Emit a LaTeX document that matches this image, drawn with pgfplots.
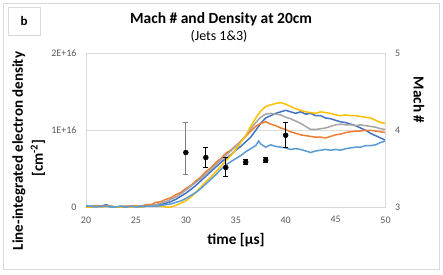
\documentclass[border=0pt]{standalone}
\usepackage{pgfplots}
\pgfplotsset{compat=1.18}
\usepackage{fontspec}
\setmainfont{Carlito}
\definecolor{cBlue}{HTML}{4472C4}
\definecolor{cOrange}{HTML}{ED7D31}
\definecolor{cGray}{HTML}{A5A5A5}
\definecolor{cGold}{HTML}{FFC000}
\definecolor{cLBlue}{HTML}{5B9BD5}
\definecolor{txt}{HTML}{595959}
\definecolor{gridc}{HTML}{D9D9D9}
\begin{document}
\begin{tikzpicture}[x=1pt,y=1pt]
\fill[white] (0,0) rectangle (443,274);
\useasboundingbox (0,0) rectangle (443,274);
\draw[gridc, line width=0.8pt] (3,5) rectangle (439,271);
\draw[gridc, line width=0.8pt] (8,239) rectangle (40,267);
\node[font=\fontsize{13}{15}\selectfont\bfseries] at (24,253) {b};
\node[font=\fontsize{15.5}{18}\selectfont\bfseries] at (221,255) {Mach \# and Density at 20cm};
\node[font=\fontsize{14}{16}\selectfont] at (219,238) {(Jets 1\&3)};
\node[font=\fontsize{15.3}{18}\selectfont\bfseries] at (236,33.5) {time [µs]};
\node[font=\fontsize{15}{18}\selectfont\bfseries, rotate=90] at (19,123) {Line-integrated electron density};
\node[font=\fontsize{15}{18}\selectfont\bfseries, rotate=90] at (38,116) {[cm\textsuperscript{-2}]};
\node[font=\fontsize{15.3}{18}\selectfont\bfseries, rotate=-90] at (419,174) {Mach \#};
\begin{axis}[
  at={(86pt,67pt)}, anchor=south west,
  scale only axis, width=299.5pt, height=153.5pt,
  xmin=20, xmax=50, ymin=0, ymax=2,
  xtick={20,25,...,50}, ytick={0,1,2},
  yticklabels={0,1E+16,2E+16},
  ymajorgrids, grid style={gridc, line width=0.7pt},
  axis line style={gridc, line width=0.7pt},
  major tick length=0pt,
  tick label style={font=\fontsize{10}{12}\selectfont, text=txt},
  /pgf/number format/assume math mode=true,
  xticklabel style={yshift=-6pt},
  yticklabel style={xshift=-6pt},
  clip=false,
]
\addplot[cBlue, line width=1.5pt] coordinates {
(20,0.01)(20.5,0.01)(21,0.02)(21.5,0.01)(22,0.03)(22.5,0.01)(23,0.00)(23.5,0.01)(24,0.00)(24.5,0.01)(25,0.01)(25.5,0.00)(26,0.01)(26.5,0.02)(27,0.02)(27.5,0.03)(28,0.05)(28.5,0.07)(29,0.10)(29.5,0.14)(30,0.18)(30.5,0.23)(31,0.28)(31.5,0.34)(32,0.40)(32.5,0.46)(33,0.52)(33.5,0.58)(34,0.63)(34.5,0.68)(35,0.74)(35.5,0.79)(36,0.85)(36.5,0.91)(37,1.00)(37.5,1.09)(38,1.16)(38.5,1.19)(39,1.22)(39.5,1.24)(40,1.26)(40.5,1.24)(41,1.22)(41.5,1.24)(42,1.21)(42.5,1.22)(43,1.19)(43.5,1.19)(44,1.16)(44.5,1.15)(45,1.13)(45.5,1.11)(46,1.10)(46.5,1.08)(47,1.06)(47.5,1.03)(48,1.00)(48.5,0.96)(49,0.93)(49.5,0.90)(50,0.87)};
\addplot[cOrange, line width=1.5pt] coordinates {
(20,0.01)(20.5,0.00)(21,0.01)(21.5,0.01)(22,0.02)(22.5,0.01)(23,0.00)(23.5,0.00)(24,0.01)(24.5,0.01)(25,0.02)(25.5,0.01)(26,0.03)(26.5,0.03)(27,0.06)(27.5,0.07)(28,0.10)(28.5,0.12)(29,0.16)(29.5,0.19)(30,0.24)(30.5,0.28)(31,0.34)(31.5,0.39)(32,0.46)(32.5,0.51)(33,0.58)(33.5,0.63)(34,0.70)(34.5,0.74)(35,0.80)(35.5,0.85)(36,0.92)(36.5,0.99)(37,1.05)(37.5,1.09)(38,1.11)(38.5,1.08)(39,1.06)(39.5,1.03)(40,1.01)(40.5,0.98)(41,0.96)(41.5,0.94)(42,0.93)(42.5,0.92)(43,0.91)(43.5,0.91)(44,0.90)(44.5,0.92)(45,0.94)(45.5,0.95)(46,0.97)(46.5,0.98)(47,0.99)(47.5,0.99)(48,1.00)(48.5,1.00)(49,0.99)(49.5,0.98)(50,0.97)};
\addplot[cGray, line width=1.5pt] coordinates {
(20,0.00)(20.5,0.01)(21,0.01)(21.5,0.00)(22,0.01)(22.5,0.01)(23,0.00)(23.5,0.01)(24,0.01)(24.5,0.00)(25,0.01)(25.5,0.01)(26,0.01)(26.5,0.02)(27,0.03)(27.5,0.05)(28,0.07)(28.5,0.10)(29,0.13)(29.5,0.17)(30,0.22)(30.5,0.27)(31,0.32)(31.5,0.37)(32,0.43)(32.5,0.49)(33,0.55)(33.5,0.61)(34,0.67)(34.5,0.73)(35,0.79)(35.5,0.86)(36,0.93)(36.5,1.02)(37,1.10)(37.5,1.17)(38,1.21)(38.5,1.22)(39,1.21)(39.5,1.20)(40,1.17)(40.5,1.15)(41,1.12)(41.5,1.09)(42,1.05)(42.5,1.01)(43,1.01)(43.5,1.02)(44,1.03)(44.5,1.05)(45,1.07)(45.5,1.08)(46,1.07)(46.5,1.07)(47,1.06)(47.5,1.07)(48,1.06)(48.5,1.05)(49,1.04)(49.5,1.02)(50,1.01)};
\addplot[cGold, line width=1.5pt] coordinates {
(20,0.00)(20.5,0.00)(21,0.01)(21.5,0.00)(22,0.01)(22.5,0.00)(23,0.00)(23.5,0.00)(24,0.01)(24.5,0.00)(25,0.01)(25.5,0.00)(26,0.01)(26.5,0.01)(27,0.01)(27.5,0.01)(28,0.00)(28.5,0.00)(29,0.02)(29.5,0.05)(30,0.08)(30.5,0.13)(31,0.19)(31.5,0.26)(32,0.33)(32.5,0.39)(33,0.46)(33.5,0.53)(34,0.60)(34.5,0.67)(35,0.75)(35.5,0.84)(36,0.93)(36.5,1.05)(37,1.16)(37.5,1.25)(38,1.31)(38.5,1.33)(39,1.35)(39.5,1.36)(40,1.34)(40.5,1.31)(41,1.28)(41.5,1.26)(42,1.24)(42.5,1.23)(43,1.22)(43.5,1.24)(44,1.23)(44.5,1.22)(45,1.20)(45.5,1.19)(46,1.20)(46.5,1.19)(47,1.19)(47.5,1.18)(48,1.17)(48.5,1.16)(49,1.13)(49.5,1.10)(50,1.09)};
\addplot[cLBlue, line width=1.5pt] coordinates {
(20,0.01)(20.5,0.01)(21,0.00)(21.5,0.01)(22,0.01)(22.5,0.00)(23,0.00)(23.5,0.01)(24,0.00)(24.5,0.01)(25,0.00)(25.5,0.01)(26,0.01)(26.5,0.01)(27,0.01)(27.5,0.02)(28,0.03)(28.5,0.04)(29,0.06)(29.5,0.08)(30,0.11)(30.5,0.15)(31,0.19)(31.5,0.24)(32,0.30)(32.5,0.36)(33,0.42)(33.5,0.49)(34,0.55)(34.5,0.59)(35,0.63)(35.5,0.67)(36,0.72)(36.5,0.76)(37,0.80)(37.3,0.86)(37.5,0.82)(38,0.78)(38.5,0.81)(39,0.79)(39.5,0.78)(40,0.77)(40.5,0.75)(41,0.76)(41.5,0.75)(42,0.73)(42.5,0.71)(43,0.73)(43.5,0.74)(44,0.75)(44.5,0.74)(45,0.75)(45.5,0.74)(46,0.76)(46.5,0.77)(47,0.78)(47.5,0.78)(48,0.80)(48.5,0.80)(49,0.81)(49.5,0.84)(50,0.86)};
\end{axis}
\begin{axis}[
  at={(86pt,67pt)}, anchor=south west,
  scale only axis, width=299.5pt, height=153.5pt,
  xmin=20, xmax=50, ymin=3, ymax=5,
  ytick={3,4,5},
  axis y line*=right, axis x line=none,
  axis line style={gridc, line width=0.7pt},
  major tick length=0pt,
  tick label style={font=\fontsize{10}{12}\selectfont, text=txt},
  /pgf/number format/assume math mode=true,
  yticklabel style={xshift=6pt},
  clip=false,
]
\addplot[only marks, mark=*, mark size=2.5pt, black,
  error bars/.cd, y dir=both, y explicit,
  error bar style={gray, line width=1pt},
  error mark options={rotate=90, mark size=2.5pt, gray, line width=1pt}]
  coordinates {(30,3.71) += (0,0.39) -= (0,0.29)};
\addplot[only marks, mark=*, mark size=2.5pt, black,
  error bars/.cd, y dir=both, y explicit,
  error bar style={black, line width=1pt},
  error mark options={rotate=90, mark size=2.5pt, black, line width=1pt}]
  coordinates {(32,3.645) += (0,0.135) -= (0,0.125) (34,3.515) += (0,0.13) -= (0,0.115) (36,3.585) +- (0,0.03) (38,3.61) +- (0,0.03) (40,3.935) += (0,0.165) -= (0,0.165)};
\end{axis}
\end{tikzpicture}
\end{document}
